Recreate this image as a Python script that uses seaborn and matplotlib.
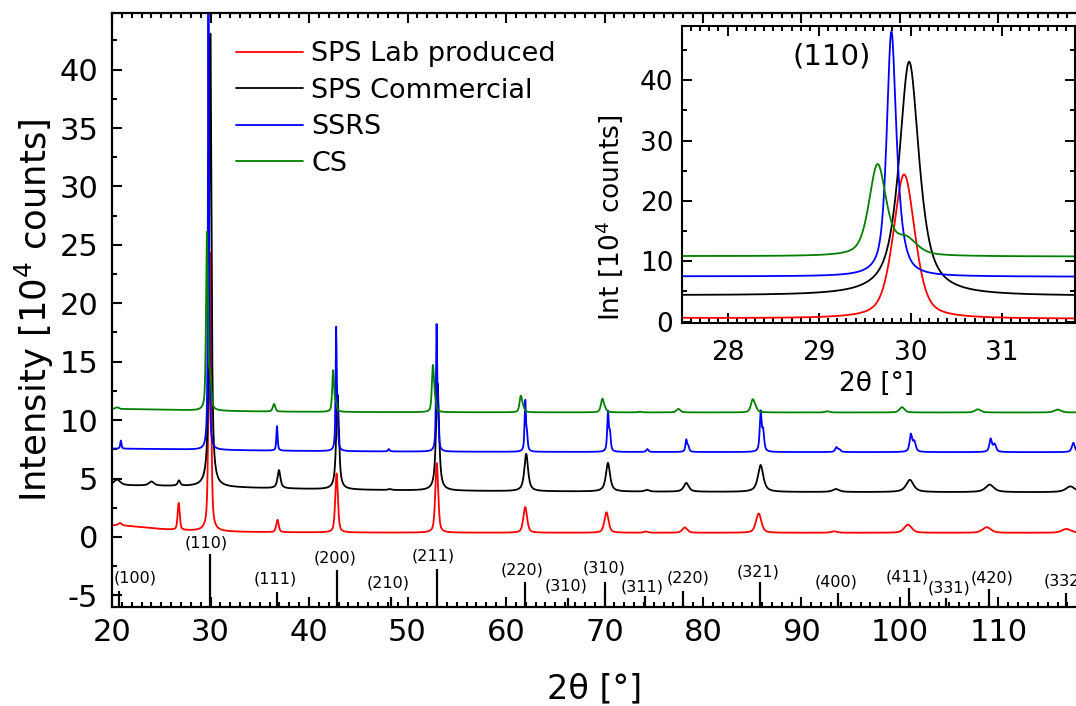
import numpy as np
import pandas as pd
import matplotlib
matplotlib.use("Agg")
import matplotlib.pyplot as plt
from matplotlib.ticker import MultipleLocator
import seaborn as sns

# ---------------------------------------------------------------- data
samples = ["SPS Lab produced", "SPS Commercial", "SSRS", "CS"]
colors = ["#ff0000", "#000000", "#0000ff", "#008000"]

# flat background level [10^4 counts] and low-angle background hump
bg_level = [0.35, 3.80, 7.25, 10.65]
bg_hump = [0.65, 0.60, 0.30, 0.30]
bg_hump_fwhm = [10.0, 40.0, 30.0, 20.0]
# Lorentzian fraction of the pseudo-Voigt line profile
profile_eta = [0.5, 0.8, 0.7, 0.5]

# reflections: 2θ [°], height above background [10^4 counts], FWHM [°]
lab_pos = [20.8, 26.77, 29.93, 36.8, 42.8, 52.97, 61.95, 70.2, 74.2, 78.15,
           85.65, 93.3, 100.8, 108.8, 116.9]
lab_height = [0.2, 2.3, 23.9, 1.05, 5.05, 5.95, 2.2, 1.75, 0.1, 0.45,
              1.65, 0.12, 0.7, 0.48, 0.33]
lab_fwhm = [0.4, 0.25, 0.28, 0.3, 0.32, 0.35, 0.45, 0.5, 0.5, 0.6,
            0.65, 0.8, 0.9, 1.0, 1.1]

com_pos = [20.5, 24.0, 26.8, 29.985, 36.95, 42.9, 48.2, 53.05, 62.05, 70.35,
           74.3, 78.3, 85.85, 93.5, 101.0, 109.1, 117.3]
com_height = [0.5, 0.35, 0.45, 38.8, 1.55, 8.1, 0.08, 9.2, 3.2, 2.45,
              0.15, 0.75, 2.3, 0.25, 1.05, 0.65, 0.5]
com_fwhm = [0.8, 0.6, 0.3, 0.26, 0.35, 0.33, 0.4, 0.36, 0.45, 0.5,
            0.5, 0.6, 0.65, 0.8, 0.9, 1.0, 1.1]

ssrs_pos = [20.9, 29.79, 29.87, 36.75, 42.75, 42.87, 48.1, 52.95, 53.09,
            61.95, 62.12, 70.35, 70.55, 74.35, 78.3, 78.5, 85.85, 86.1,
            93.55, 93.85, 101.1, 101.45, 109.2, 109.6, 117.6]
ssrs_height = [0.7, 39.0, 3.5, 2.1, 9.9, 3.0, 0.2, 10.3, 3.0,
               4.2, 1.4, 3.3, 1.5, 0.25, 1.0, 0.45, 3.3, 1.7,
               0.4, 0.2, 1.45, 0.85, 1.1, 0.65, 0.8]
ssrs_fwhm = [0.15, 0.12, 0.15, 0.15, 0.13, 0.15, 0.2, 0.14, 0.16,
             0.16, 0.18, 0.18, 0.2, 0.25, 0.2, 0.22, 0.22, 0.25,
             0.3, 0.3, 0.3, 0.35, 0.3, 0.35, 0.35]

cs_pos = [20.5, 29.64, 29.95, 36.45, 42.45, 42.72, 52.58, 52.8, 61.5, 61.75,
          69.78, 70.05, 73.6, 77.5, 85.05, 85.35, 92.6, 100.2, 107.9, 116.0]
cs_height = [0.15, 15.05, 2.6, 0.65, 3.5, 0.7, 3.9, 0.8, 1.35, 0.35,
             1.1, 0.25, 0.06, 0.3, 1.05, 0.25, 0.1, 0.45, 0.27, 0.25]
cs_fwhm = [0.4, 0.22, 0.28, 0.3, 0.22, 0.25, 0.25, 0.25, 0.3, 0.3,
           0.35, 0.35, 0.4, 0.45, 0.45, 0.45, 0.5, 0.6, 0.7, 0.8]

peak_sets = [(lab_pos, lab_height, lab_fwhm),
             (com_pos, com_height, com_fwhm),
             (ssrs_pos, ssrs_height, ssrs_fwhm),
             (cs_pos, cs_height, cs_fwhm)]

# reference pattern: 2θ [°], stick length [10^4 counts], Miller indices
ref_pos = [20.75, 29.94, 36.8, 42.85, 48.35, 53.0, 61.9, 66.3, 70.1, 74.1,
           78.0, 85.75, 93.7, 100.9, 104.7, 109.0, 116.9]
ref_len = [1.4, 4.54, 1.26, 3.17, 0.9, 3.23, 2.1, 0.8, 2.1, 0.95,
           1.4, 2.15, 1.2, 1.6, 0.8, 1.55, 1.23]
ref_hkl = ["(100)", "(110)", "(111)", "(200)", "(210)", "(211)", "(220)",
           "(310)", "(310)", "(311)", "(220)", "(321)", "(400)", "(411)",
           "(331)", "(420)", "(332)"]
# where each Miller-index label sits (data coordinates)
hkl_text_x = [22.33, 29.54, 36.6, 42.6, 48.0, 52.6, 61.6, 66.1, 69.95, 73.8,
              78.5, 85.6, 93.5, 100.7, 105.0, 109.3, 116.7]
hkl_text_y = [-3.51, -0.51, -3.6, -1.77, -3.91, -1.63, -2.83, -4.2, -2.63,
              -4.26, -3.48, -2.97, -3.83, -3.45, -4.39, -3.54, -3.77]


# ---------------------------------------------------------------- profiles
def pseudo_voigt(x, c, h, w, eta):
    hw = w / 2.0
    lor = 1.0 / (1.0 + ((x - c) / hw) ** 2)
    gau = np.exp(-np.log(2.0) * ((x - c) / hw) ** 2)
    return h * (eta * lor + (1.0 - eta) * gau)


two_theta = np.arange(20.0, 118.0, 0.005)
frames = []
for i, name in enumerate(samples):
    y = bg_level[i] + bg_hump[i] / (1.0 + ((two_theta - 20.0) / (bg_hump_fwhm[i] / 2.0)) ** 2)
    for c, h, w in zip(*peak_sets[i]):
        y = y + pseudo_voigt(two_theta, c, h, w, profile_eta[i])
    frames.append(pd.DataFrame({"2θ": two_theta, "Intensity": y, "Sample": name}))
df = pd.concat(frames, ignore_index=True)

# ---------------------------------------------------------------- figure
sns.set_style("ticks")
plt.rcParams.update({
    "font.family": ["DejaVu Sans"],
    "axes.unicode_minus": False,
    "mathtext.fontset": "dejavusans",
    "text.color": "black",
    "axes.labelcolor": "black",
    "axes.edgecolor": "black",
    "xtick.color": "black",
    "ytick.color": "black",
})

palette = dict(zip(samples, colors))

fig = plt.figure(figsize=(10.76, 7.06), dpi=100)
ax = fig.add_axes([0.1041, 0.1402, 0.8971, 0.8414])

sns.lineplot(data=df, x="2θ", y="Intensity", hue="Sample", hue_order=samples,
             palette=palette, estimator=None, sort=False, linewidth=1.3, ax=ax)

ax.set_xlim(20, 118)
ax.set_ylim(-6, 44.85)

ax.vlines(ref_pos, -6, [-6 + v for v in ref_len], colors="black", linewidth=1.6, zorder=3)
for tx, ty, lab in zip(hkl_text_x, hkl_text_y, ref_hkl):
    ax.text(tx, ty, lab, ha="center", va="center", fontsize=11.5, color="black")

ax.xaxis.set_major_locator(MultipleLocator(10))
ax.xaxis.set_minor_locator(MultipleLocator(1))
ax.yaxis.set_major_locator(MultipleLocator(5))
ax.yaxis.set_minor_locator(MultipleLocator(2.5))
ax.tick_params(which="both", direction="in", top=True, right=False, width=1.5)
ax.tick_params(which="major", length=7.5, labelsize=22)
ax.tick_params(axis="x", which="major", pad=8)
ax.tick_params(axis="y", which="major", pad=10)
ax.tick_params(which="minor", length=3.8)
for s in ax.spines.values():
    s.set_linewidth(1.6)

ax.set_xlabel("2θ [°]", fontsize=24)
ax.set_ylabel("Intensity [10$^4$ counts]", fontsize=25.5)
ax.xaxis.set_label_coords(0.5, -0.11)
ax.yaxis.set_label_coords(-0.0585, 0.5)

handles, labels = ax.get_legend_handles_labels()
ax.legend(handles, labels, loc="upper left", bbox_to_anchor=(0.1285, 0.9526),
          frameon=False, fontsize=19.5, borderpad=0, borderaxespad=0,
          handlelength=2.47, handletextpad=0.3, labelspacing=0.39)

# ---------------------------------------------------------------- inset
axi = fig.add_axes([0.6336, 0.542, 0.3657, 0.4211], zorder=5)
axi.set_facecolor("white")
sns.lineplot(data=df[(df["2θ"] > 27.3) & (df["2θ"] < 32.0)], x="2θ", y="Intensity",
             hue="Sample", hue_order=samples, palette=palette, estimator=None,
             sort=False, linewidth=1.3, legend=False, ax=axi)
axi.set_xlim(27.5, 31.8)
axi.set_ylim(-0.3, 49)
axi.xaxis.set_major_locator(MultipleLocator(1))
axi.xaxis.set_minor_locator(MultipleLocator(0.1))
axi.yaxis.set_major_locator(MultipleLocator(10))
axi.yaxis.set_minor_locator(MultipleLocator(5))
axi.tick_params(which="both", direction="in", top=True, right=True, width=1.4)
axi.tick_params(which="major", length=7, labelsize=19)
axi.tick_params(axis="x", which="major", pad=12)
axi.tick_params(axis="y", which="major", pad=6)
axi.tick_params(which="minor", length=3.5)
for s in axi.spines.values():
    s.set_linewidth(1.5)
axi.set_xlabel("2θ [°]", fontsize=19)
axi.set_ylabel("Int [10$^4$ counts]", fontsize=19)
axi.xaxis.set_label_coords(0.495, -0.16)
axi.yaxis.set_label_coords(-0.143, 0.356)
axi.text(29.14, 43.9, "(110)", ha="center", va="center", fontsize=21)

fig.savefig("out.png", dpi=100)
